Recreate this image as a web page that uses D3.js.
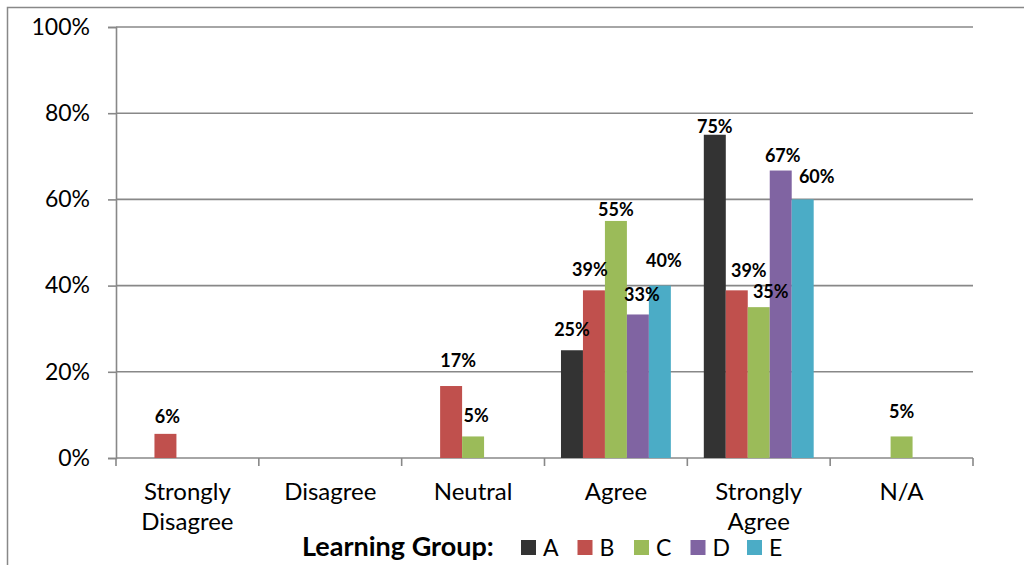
<!DOCTYPE html>
<html>
<head>
<meta charset="utf-8">
<script src="https://cdn.jsdelivr.net/npm/d3@7/dist/d3.min.js"></script>
<style>
  html, body { margin: 0; padding: 0; background: #fff; }
  svg { display: block; font-family: Lato, "Open Sans", sans-serif; }
</style>
</head>
<body>
<svg id="chart" width="1024" height="565"></svg>
<script>
// Survey responses by learning group (share of respondents)
const categories = ["Strongly Disagree", "Disagree", "Neutral", "Agree", "Strongly Agree", "N/A"];
const categoryLines = [["Strongly", "Disagree"], ["Disagree"], ["Neutral"], ["Agree"], ["Strongly", "Agree"], ["N/A"]];
const groups = ["A", "B", "C", "D", "E"];
const groupA = [0, 0, 0, 0.25, 0.75, 0];
const groupB = [0.056, 0, 0.167, 0.389, 0.389, 0];
const groupC = [0, 0, 0.05, 0.55, 0.35, 0.05];
const groupD = [0, 0, 0, 0.333, 0.667, 0];
const groupE = [0, 0, 0, 0.40, 0.60, 0];
const yTicks = [0, 0.2, 0.4, 0.6, 0.8, 1.0];
const legendTitle = "Learning Group:";

const seriesValues = { A: groupA, B: groupB, C: groupC, D: groupD, E: groupE };
const colors = { A: "#333333", B: "#c0504d", C: "#9bbb59", D: "#8064a2", E: "#4bacc6" };

// Hand-placed data label offsets: [dx from bar centre, gap from bar top to baseline]
const labelNudge = {
  "Strongly Disagree|B": [2, 11],
  "Neutral|B": [7, 19], "Neutral|C": [3, 14],
  "Agree|A": [0, 14], "Agree|B": [-4, 14], "Agree|C": [0, 5], "Agree|D": [4, 13], "Agree|E": [4, 19],
  "Strongly Agree|A": [0, 2], "Strongly Agree|B": [12, 13], "Strongly Agree|C": [12, 9],
  "Strongly Agree|D": [2, 9], "Strongly Agree|E": [14, 16],
  "N/A|C": [0, 18]
};

const svg = d3.select("#chart");
const plot = { left: 116, right: 973, top: 27, bottom: 458 };
const axisColor = "#888888";

// Outer chart frame (continues past the right and bottom edges)
svg.append("path")
  .attr("d", "M7.5,570 V7.5 H1030")
  .attr("fill", "none").attr("stroke", axisColor).attr("stroke-width", 1.5);

const x = d3.scaleBand().domain(categories).range([plot.left, plot.right]);
const xs = d3.scaleBand().domain(groups).range([0, x.bandwidth()]).paddingOuter(0.75);
const y = d3.scaleLinear().domain([0, 1]).range([plot.bottom, plot.top]);

// Horizontal gridlines
svg.append("g").selectAll("line").data(yTicks.filter(d => d > 0)).join("line")
  .attr("x1", plot.left).attr("x2", plot.right)
  .attr("y1", d => y(d)).attr("y2", d => y(d))
  .attr("stroke", axisColor).attr("stroke-width", 1.6);

// Y axis
const yAxis = svg.append("g").attr("transform", `translate(${plot.left},0)`)
  .call(d3.axisLeft(y).tickValues(yTicks).tickFormat(d3.format(".0%")).tickSize(8).tickPadding(18));
yAxis.select(".domain").attr("stroke", axisColor).attr("stroke-width", 1.6);
yAxis.selectAll(".tick line").attr("stroke", axisColor).attr("stroke-width", 1.6);
yAxis.selectAll(".tick text").attr("font-size", 23).attr("fill", "#000")
  .attr("font-family", "Lato, 'Open Sans', sans-serif");

// X axis with ticks at category boundaries
const boundaries = categories.map(c => x(c)).concat([plot.right]);
svg.append("line")
  .attr("x1", plot.left).attr("x2", plot.right)
  .attr("y1", plot.bottom).attr("y2", plot.bottom)
  .attr("stroke", axisColor).attr("stroke-width", 1.6);
svg.append("g").selectAll("line").data(boundaries).join("line")
  .attr("x1", d => d).attr("x2", d => d)
  .attr("y1", plot.bottom).attr("y2", plot.bottom + 8)
  .attr("stroke", axisColor).attr("stroke-width", 1.6);

// Category labels (wrapped)
const catLabels = svg.append("g").selectAll("text").data(categories).join("text")
  .attr("x", c => x(c) + x.bandwidth() / 2)
  .attr("y", 500)
  .attr("text-anchor", "middle").attr("font-size", 24).attr("fill", "#000");
catLabels.each(function(c, i) {
  d3.select(this).selectAll("tspan").data(categoryLines[i]).join("tspan")
    .attr("x", x(c) + x.bandwidth() / 2)
    .attr("dy", (d, j) => j === 0 ? 0 : 30)
    .text(d => d);
});

// Bars
const barData = [];
categories.forEach((c, i) => {
  groups.forEach(g => {
    const v = seriesValues[g][i];
    if (v > 0) barData.push({ cat: c, group: g, value: v });
  });
});

svg.append("g").selectAll("rect").data(barData).join("rect")
  .attr("x", d => x(d.cat) + xs(d.group))
  .attr("width", xs.bandwidth())
  .attr("y", d => y(d.value))
  .attr("height", d => y(0) - y(d.value))
  .attr("fill", d => colors[d.group]);

// Data labels
svg.append("g").selectAll("text").data(barData).join("text")
  .attr("x", d => x(d.cat) + xs(d.group) + xs.bandwidth() / 2 + (labelNudge[d.cat + "|" + d.group] || [0, 5])[0])
  .attr("y", d => y(d.value) - (labelNudge[d.cat + "|" + d.group] || [0, 5])[1])
  .attr("text-anchor", "middle").attr("font-size", 18).attr("font-weight", "bold").attr("fill", "#000")
  .text(d => d3.format(".0%")(d.value));

// Legend
const legend = svg.append("g");
legend.append("text").attr("x", 302).attr("y", 556)
  .attr("font-size", 27).attr("font-weight", "bold").attr("fill", "#000")
  .text(legendTitle);
const legendX = d3.scalePoint().domain(groups).range([521, 747]);
const items = legend.selectAll("g.item").data(groups).join("g").attr("class", "item")
  .attr("transform", g => `translate(${legendX(g)},0)`);
items.append("rect").attr("x", 0).attr("y", 540).attr("width", 15).attr("height", 15)
  .attr("fill", g => colors[g]);
items.append("text").attr("x", 22).attr("y", 556).attr("font-size", 23).attr("fill", "#000")
  .text(g => g);
</script>
</body>
</html>
